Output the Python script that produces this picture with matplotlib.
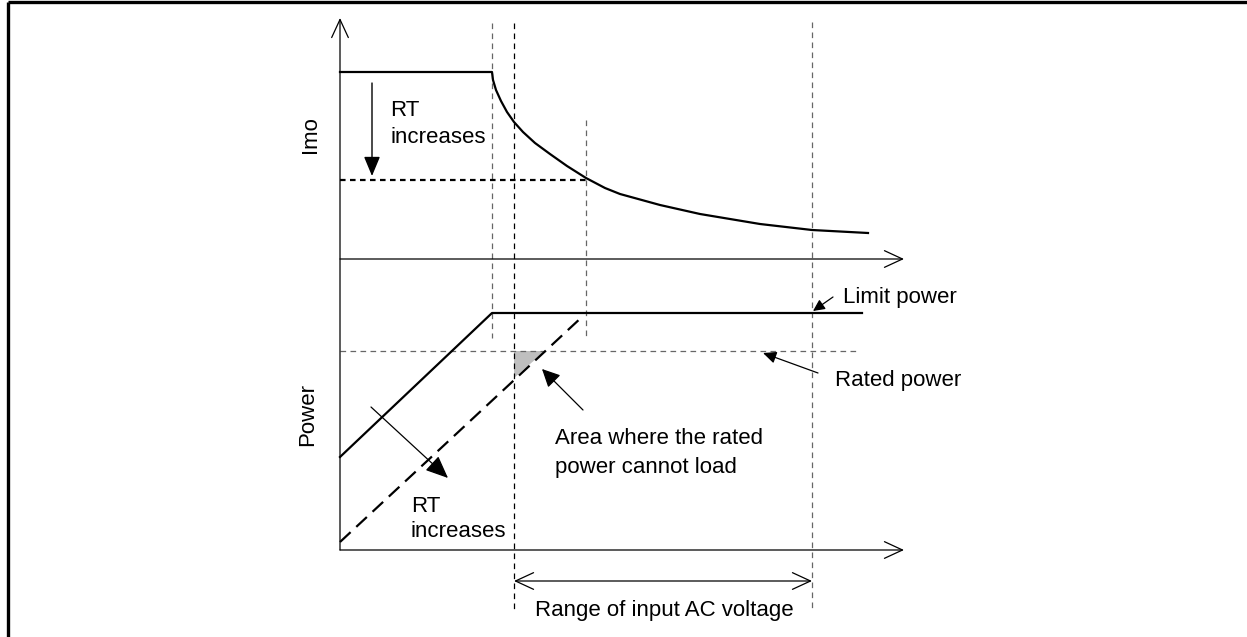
import matplotlib
matplotlib.use("Agg")
import matplotlib.pyplot as plt
from matplotlib.patches import Polygon

plt.rcParams['font.family'] = ['Liberation Sans', 'DejaVu Sans']

# ---- schematic values (drawing units = pixels, y downwards) ----
# Imo vs input voltage (upper panel)
imo_v = [340, 492, 493, 496, 501, 507, 514, 523, 535, 550, 567, 586, 605, 620,
         660, 700, 760, 812, 868]
imo_i = [72, 72, 80, 90, 101, 112, 122, 132, 143, 154, 166, 178, 188, 194,
         205, 214, 224, 230, 233]
imo_reduced_v = [340, 587]
imo_reduced_i = [180, 180]

# Power vs input voltage (lower panel)
limit_power_v = [340, 492, 862]
limit_power_p = [457, 313, 313]
reduced_power_v = [340, 583]
reduced_power_p = [542, 316]
rated_power_v = [340, 858]
rated_power_p = [351, 351]
shortfall_v = [514, 545, 514]
shortfall_p = [351, 351, 378]

# guide lines
guide_x = [492, 514, 586, 812]
guide_top = [23, 23, 120, 22]
guide_bot = [338, 612, 340, 610]
guide_col = ['#666666', '#000000', '#666666', '#666666']

# axes
axis_origin_x = 340
upper_axis_y = 259
lower_axis_y = 550
axis_end_x = 904
yaxis_top = 18

range_v = [514, 812]
range_y = 581

labels = {
    'imo': 'Imo',
    'power': 'Power',
    'rt': ['RT', 'increases'],
    'limit': 'Limit power',
    'rated': 'Rated power',
    'area': ['Area where the rated', 'power cannot load'],
    'range': 'Range of input AC voltage',
}

W, H = 1247, 637
fig = plt.figure(figsize=(W / 100, H / 100), dpi=100)
ax = fig.add_axes([0, 0, 1, 1])
ax.set_xlim(0, W)
ax.set_ylim(H, 0)
ax.axis('off')

FS = 16
LW = 1.6

# border (top and left)
ax.plot([8, W], [2, 2], color='k', lw=2.4, solid_capstyle='butt')
ax.plot([8, 8], [2, H], color='k', lw=2.4, solid_capstyle='butt')

# guide lines
for gx, gt, gb, gc in zip(guide_x, guide_top, guide_bot, guide_col):
    ax.plot([gx, gx], [gt, gb], color=gc, lw=0.9, dashes=(4.5, 3.5))

# rated power dashed
ax.plot(rated_power_v, rated_power_p, color='#666666', lw=0.9, dashes=(4.5, 3.5))

# shortfall triangle
ax.add_patch(Polygon(list(zip(shortfall_v, shortfall_p)), closed=True,
                     facecolor='#bfbfbf', edgecolor='none', zorder=1))

open_arrow = dict(arrowstyle='->,head_length=0.65,head_width=0.3', color='k', lw=0.9,
                  shrinkA=0, shrinkB=0, mutation_scale=20)

# y axis
ax.annotate('', xy=(axis_origin_x, yaxis_top), xytext=(axis_origin_x, lower_axis_y),
            arrowprops=open_arrow)
# x axes
ax.annotate('', xy=(axis_end_x, upper_axis_y), xytext=(axis_origin_x, upper_axis_y),
            arrowprops=open_arrow)
ax.annotate('', xy=(axis_end_x, lower_axis_y), xytext=(axis_origin_x, lower_axis_y),
            arrowprops=open_arrow)

# Imo curves
ax.plot(imo_v, imo_i, color='k', lw=LW, solid_joinstyle='round')
ax.plot(imo_reduced_v, imo_reduced_i, color='k', lw=LW, dashes=(2.5, 2.0))

# Power lines
ax.plot(limit_power_v, limit_power_p, color='k', lw=LW)
ax.plot(reduced_power_v, reduced_power_p, color='k', lw=LW, dashes=(6.5, 3.5))

# range arrow
ax.annotate('', xy=(range_v[1], range_y), xytext=(range_v[0], range_y),
            arrowprops=dict(arrowstyle='<->,head_length=0.65,head_width=0.3', color='k',
                            lw=0.9, shrinkA=0, shrinkB=0, mutation_scale=20))

# filled arrows
def farrow(tail, tip, hl, hw, lw=0.9):
    ax.annotate('', xy=tip, xytext=tail,
                arrowprops=dict(arrowstyle=f'-|>,head_length={hl},head_width={hw}',
                                color='k', lw=lw, shrinkA=0, shrinkB=0, mutation_scale=20))

farrow((372, 83), (372, 176), 0.6, 0.25, lw=1.0)
farrow((371, 407), (448, 478), 0.7, 0.3)
farrow((583, 410), (542, 369), 0.55, 0.27)
farrow((833, 297), (813, 311), 0.35, 0.17)
farrow((818, 373), (763, 353), 0.4, 0.18)

# texts
ax.text(310, 135, labels['imo'], rotation=90, ha='center', va='center', fontsize=FS)
ax.text(308, 414, labels['power'], rotation=90, ha='center', va='center', fontsize=FS)
for txt, yb in zip(labels['rt'], [116, 143]):
    ax.text(390, yb, txt, ha='left', va='baseline', fontsize=FS)
for txt, yb in zip(labels['rt'], [512, 537]):
    ax.text(411, yb, txt, ha='left', va='baseline', fontsize=FS)
ax.text(843, 303, labels['limit'], ha='left', va='baseline', fontsize=FS)
ax.text(835, 386, labels['rated'], ha='left', va='baseline', fontsize=FS)
for txt, yb in zip(labels['area'], [444, 473]):
    ax.text(555, yb, txt, ha='left', va='baseline', fontsize=FS)
ax.text(664, 616, labels['range'], ha='center', va='baseline', fontsize=FS)

fig.savefig('out.png', dpi=100)
